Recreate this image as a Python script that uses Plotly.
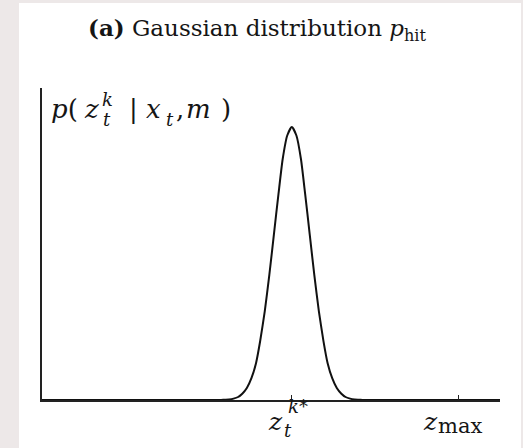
import plotly.graph_objects as go

# ---- data (x in units where z_max = 10, y relative to the peak) ----
z_star = 6.0
z_max = 10.0
x_end = 11.0
x_vals = [0.0, 4.27, 4.38, 4.49, 4.60, 4.71, 4.81, 4.92, 5.03, 5.14, 5.24, 5.35, 5.46, 5.57, 5.68, 5.78, 5.89,
          6.00, 6.11, 6.22, 6.32, 6.43, 6.54, 6.65, 6.76, 6.86, 6.97, 7.08, 7.19, 7.29, 7.40, 7.51, 7.62, 7.73, 11.0]
y_vals = [0.0, 0.0, 0.001, 0.002, 0.005, 0.011, 0.023, 0.044, 0.080, 0.135, 0.216, 0.325, 0.458, 0.607, 0.755, 0.882,
          0.969, 1.0, 0.969, 0.882, 0.755, 0.607, 0.458, 0.325, 0.216, 0.135, 0.080, 0.044, 0.023, 0.011, 0.005, 0.002,
          0.001, 0.0, 0.0]
y_top = 1.143
tick_vals = [z_star, z_max]

W, H = 523, 448
L, R, T, B = 42, 23, 88, 48
pw, ph = W - L - R, H - T - B

def px(x):
    return (x - L) / pw

def py(y):
    return (H - B - y) / ph

fig = go.Figure()
fig.add_trace(go.Scatter(x=x_vals, y=y_vals, mode="lines",
                         line=dict(color="#111", width=2, shape="spline", smoothing=0.6),
                         hoverinfo="skip", showlegend=False))

serif = "DejaVu Serif"
ann = []

def txt(s, x, y, size, xref="paper", anchor="left", xshift=0):
    ann.append(dict(x=px(x) if xref == "paper" else x, y=py(y), xref=xref, yref="paper", showarrow=False,
                    xanchor=anchor, yanchor="middle", xshift=xshift, text=s, borderpad=0,
                    font=dict(family=serif, size=size, color="#151515")))

# title
txt("<b>(a)</b> Gaussian distribution <i>p</i><sub>hit</sub>", 257, 29, 23, anchor="center")

# y-axis label  p(z_t^k | x_t, m)
big, small = 26, 18
yc = 109
txt("<i>p</i>(", 50, yc, big)
txt("<i>z</i>", 83, yc, big)
txt("<i>k</i>", 101, 99, small)
txt("<i>t</i>", 102, 119, small)
txt("|", 128, yc, big)
txt("<i>x</i>", 145, yc, big)
txt("<i>t</i>", 165, 119, small)
txt(",", 175, yc, big)
txt("<i>m</i>", 185, yc, big)
txt(")", 220, yc, big)

# tick labels on the x axis
tb, ts = 25, 18
txt("<i>z</i>", z_star, 421, tb, xref="x", anchor="left", xshift=-25)
txt("<i>k</i>*", z_star, 406, ts, xref="x", anchor="left", xshift=-5)
txt("<i>t</i>", z_star, 430, ts, xref="x", anchor="left", xshift=-9)
txt("<i>z</i>", z_max, 421, tb, xref="x", anchor="left", xshift=-36)
txt("max", z_max, 426, 21, xref="x", anchor="left", xshift=-21)

shapes = [dict(type="rect", xref="paper", yref="paper", x0=px(19), x1=px(521), y0=py(H + 5), y1=py(3),
               fillcolor="white", line=dict(width=0), layer="below")]

fig.update_layout(
    width=W, height=H, margin=dict(l=L, r=R, t=T, b=B),
    paper_bgcolor="#ede8e8", plot_bgcolor="rgba(0,0,0,0)",
    annotations=ann, shapes=shapes,
    xaxis=dict(range=[0, x_end], showgrid=False, zeroline=False, showline=True, linecolor="#222", linewidth=2,
               ticks="inside", ticklen=5, tickwidth=1, tickcolor="#222", tickvals=tick_vals,
               showticklabels=False, fixedrange=True),
    yaxis=dict(range=[0, y_top], showgrid=False, zeroline=False, showline=True, linecolor="#222", linewidth=2,
               showticklabels=False, ticks="", fixedrange=True),
)

fig.write_html("out.html")
